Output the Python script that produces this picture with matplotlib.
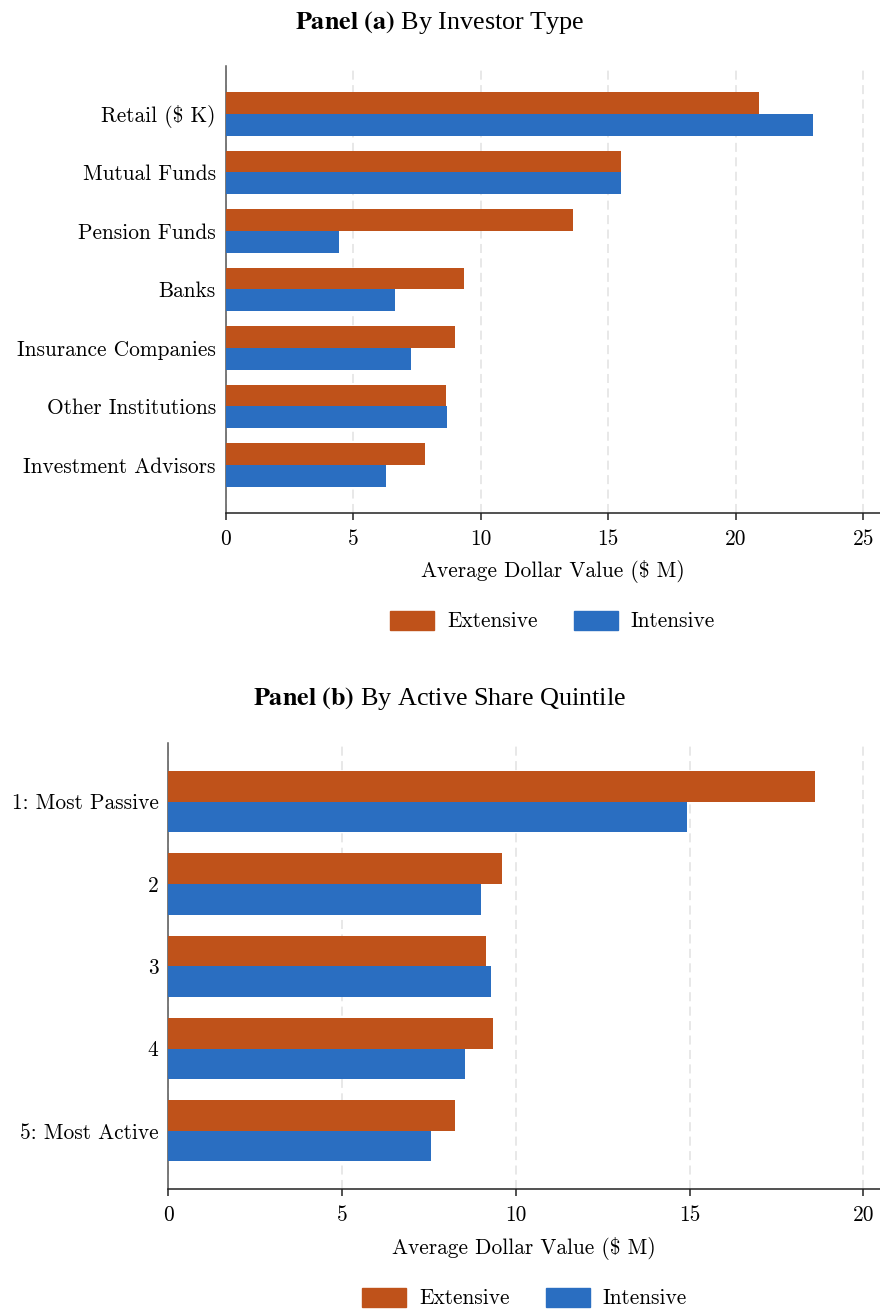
"""
Average dollar value of trades, extensive vs intensive margin,
split by investor type and by active-share quintile.
"""

import matplotlib

matplotlib.use("Agg")
import matplotlib.pyplot as plt
from matplotlib.patches import Patch
from matplotlib.transforms import ScaledTranslation

# ── data ────────────────────────────────────────────────────────────────────

investor_types = [
    "Retail ($ K)",
    "Mutual Funds",
    "Pension Funds",
    "Banks",
    "Insurance Companies",
    "Other Institutions",
    "Investment Advisors",
]
investor_extensive = [20.9, 15.5, 13.6, 9.33, 8.97, 8.62, 7.8]
investor_intensive = [23.04, 15.5, 4.43, 6.62, 7.25, 8.66, 6.27]

quintiles = ["1: Most Passive", "2", "3", "4", "5: Most Active"]
quintile_extensive = [18.62, 9.6, 9.14, 9.34, 8.24]
quintile_intensive = [14.93, 8.99, 9.28, 8.53, 7.55]

# ── style ───────────────────────────────────────────────────────────────────

C_EXT = "#bf521a"
C_INT = "#2a6ec1"
BAR_H = 0.372
FS = 15.4

plt.rcParams["font.family"] = "cmr10"
plt.rcParams["axes.formatter.use_mathtext"] = True
plt.rcParams["mathtext.fontset"] = "cm"

W, H = 880, 1312
fig = plt.figure(figsize=(W / 100, H / 100), dpi=100)


def px_axes(left, top, right, bottom):
    return fig.add_axes([left / W, 1 - bottom / H, (right - left) / W, (bottom - top) / H])


def draw_panel(ax, labels, ext, intn, xmax, ticks, pad_y):
    n = len(labels)
    pos = list(range(n))
    ax.barh([p - BAR_H / 2 for p in pos], ext, height=BAR_H, color=C_EXT, zorder=3)
    ax.barh([p + BAR_H / 2 for p in pos], intn, height=BAR_H, color=C_INT, zorder=3)
    ax.set_yticks(pos)
    ax.set_yticklabels(labels, fontsize=FS)
    # nudge category labels down a touch so they sit level with the bar pair
    shift = ScaledTranslation(0, -2 / 72, fig.dpi_scale_trans)
    for lab in ax.get_yticklabels():
        lab.set_transform(lab.get_transform() + shift)
    ax.set_ylim(n - 1 + pad_y, -pad_y)
    ax.set_xlim(0, xmax)
    ax.set_xticks(ticks)
    ax.set_xticklabels([str(t) for t in ticks], fontsize=FS)
    ax.tick_params(axis="y", length=0, pad=7)
    ax.tick_params(axis="x", length=5, width=1.1, pad=7, color="#222222")
    for side in ("top", "right"):
        ax.spines[side].set_visible(False)
    ax.spines["left"].set_color("#555555")
    ax.spines["bottom"].set_color("#222222")
    ax.spines["left"].set_linewidth(1.1)
    ax.spines["bottom"].set_linewidth(1.1)
    ax.xaxis.grid(True, color="#e6e6e6", linestyle=(0, (5, 3)), linewidth=1.3, zorder=0)
    ax.set_axisbelow(True)
    ax.set_xlabel("Average Dollar Value ($ M)", fontsize=FS, labelpad=8)


def add_legend(cx, cy):
    handles = [Patch(color=C_EXT, label="Extensive"), Patch(color=C_INT, label="Intensive")]
    fig.legend(
        handles=handles,
        loc="center",
        bbox_to_anchor=(cx / W, 1 - cy / H),
        ncol=2,
        frameon=False,
        fontsize=FS,
        handlelength=2.05,
        handleheight=1.0,
        handletextpad=0.6,
        columnspacing=1.7,
    )


def add_title(letter, text, y):
    fig.text(
        0.5,
        1 - y / H,
        rf"$\bf{{Panel\ ({letter})}}$ {text}",
        ha="center",
        va="center",
        fontsize=18.8,
        family="Liberation Serif",
        math_fontfamily="stix",
    )


# Panel (a)
ax_a = px_axes(225.7, 66, 880, 512.7)
draw_panel(ax_a, investor_types, investor_extensive, investor_intensive,
           25.65, [0, 5, 10, 15, 20, 25], 0.82)
add_title("a", "By Investor Type", 23)
add_legend(552.5, 621)

# Panel (b)
ax_b = px_axes(168.3, 743.3, 880, 1189.3)
draw_panel(ax_b, quintiles, quintile_extensive, quintile_intensive,
           20.48, [0, 5, 10, 15, 20], 0.71)
add_title("b", "By Active Share Quintile", 699)
add_legend(524.5, 1298)

fig.savefig("out.png", dpi=100)
